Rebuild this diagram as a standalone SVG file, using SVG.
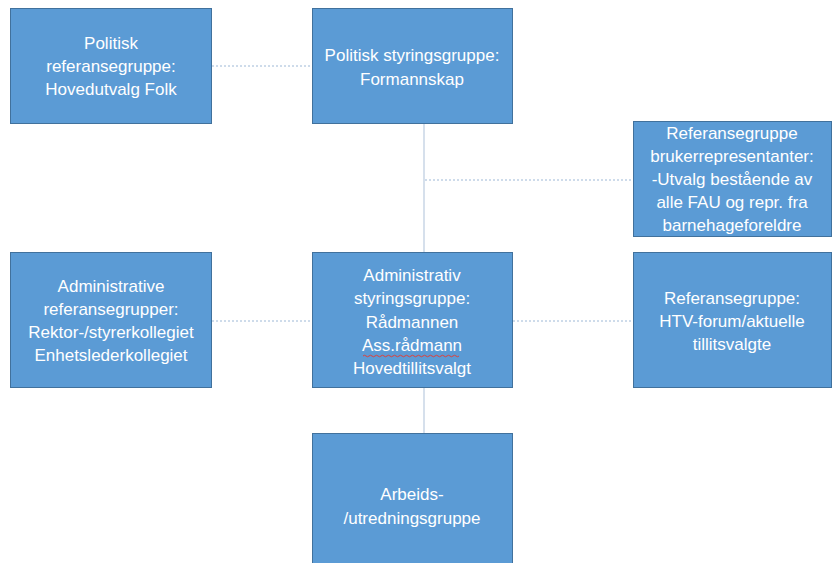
<svg xmlns="http://www.w3.org/2000/svg" width="832" height="563" viewBox="0 0 832 563">
<style>
.box{fill:#5B9BD5;stroke:#41719C;stroke-width:1}
.t{font-family:"Liberation Sans",Arial,sans-serif;font-size:17px;fill:#FFFFFF;text-anchor:middle}
.solid{stroke:#C9D6E6;stroke-width:1.5;fill:none}
.dash{stroke:#9DB8D6;stroke-width:1;stroke-dasharray:2 2;fill:none}
</style>
<rect width="832" height="563" fill="#FFFFFF"/>
<g id="connectors">
<line class="solid" x1="424" y1="124" x2="424" y2="252"/>
<line class="solid" x1="424" y1="388" x2="424" y2="433"/>
<line class="dash" x1="212" y1="66" x2="312" y2="66"/>
<line class="dash" x1="425" y1="180" x2="633" y2="180"/>
<line class="dash" x1="212" y1="321" x2="312" y2="321"/>
<line class="dash" x1="513" y1="321" x2="633" y2="321"/>
</g>
<g id="politisk-ref">
<rect class="box" x="10.5" y="8.5" width="201" height="115"/>
<text class="t" x="111" y="49">Politisk</text>
<text class="t" x="111" y="72">referansegruppe:</text>
<text class="t" x="111" y="95">Hovedutvalg Folk</text>
</g>
<g id="politisk-styr">
<rect class="box" x="312.5" y="8.5" width="200" height="115"/>
<text class="t" x="412" y="61">Politisk styringsgruppe:</text>
<text class="t" x="412" y="85">Formannskap</text>
</g>
<g id="bruker">
<rect class="box" x="633.5" y="121.5" width="198" height="115"/>
<text class="t" x="732" y="139">Referansegruppe</text>
<text class="t" x="732" y="162">brukerrepresentanter:</text>
<text class="t" x="732" y="185">-Utvalg bestående av</text>
<text class="t" x="732" y="208">alle FAU og repr. fra</text>
<text class="t" x="732" y="231">barnehageforeldre</text>
</g>
<g id="admin-ref">
<rect class="box" x="10.5" y="252.5" width="201" height="135"/>
<text class="t" x="111" y="292">Administrative</text>
<text class="t" x="111" y="315">referansegrupper:</text>
<text class="t" x="111" y="338">Rektor-/styrerkollegiet</text>
<text class="t" x="111" y="361">Enhetslederkollegiet</text>
</g>
<g id="admin-styr">
<rect class="box" x="312.5" y="252.5" width="200" height="135"/>
<text class="t" x="412" y="281">Administrativ</text>
<text class="t" x="412" y="304">styringsgruppe:</text>
<text class="t" x="412" y="328">Rådmannen</text>
<text class="t" x="412" y="351">Ass.rådmann</text>
<path d="M363 356 q1.5 -1.5 3 0 t3 0 t3 0 t3 0 t3 0 t3 0 t3 0 t3 0 t3 0 t3 0 t3 0 t3 0 t3 0 t3 0 t3 0 t3 0 t3 0 t3 0 t3 0 t3 0 t3 0 t3 0 t3 0 t3 0 t3 0 t3 0 t3 0 t3 0 t3 0 t3 0 t3 0 t3 0" fill="none" stroke="#E0403A" stroke-width="1"/>
<text class="t" x="412" y="374">Hovedtillitsvalgt</text>
</g>
<g id="htv">
<rect class="box" x="633.5" y="252.5" width="198" height="135"/>
<text class="t" x="732" y="304">Referansegruppe:</text>
<text class="t" x="732" y="327">HTV-forum/aktuelle</text>
<text class="t" x="732" y="350">tillitsvalgte</text>
</g>
<g id="arbeid">
<rect class="box" x="312.5" y="433.5" width="200" height="135"/>
<text class="t" x="412" y="500">Arbeids-</text>
<text class="t" x="412" y="524">/utredningsgruppe</text>
</g>
</svg>
